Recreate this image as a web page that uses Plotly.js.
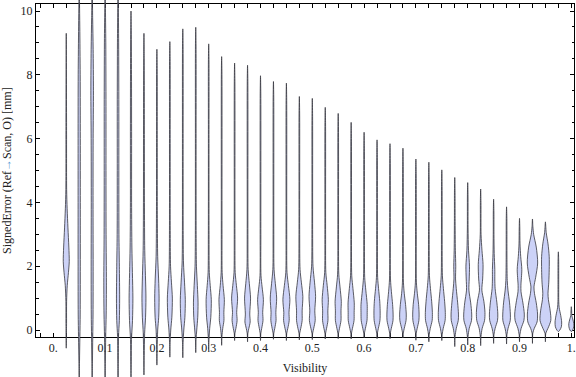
<!DOCTYPE html>
<html><head><meta charset="utf-8">
<script src="https://cdn.plot.ly/plotly-3.0.1.min.js"></script>
<style>html,body{margin:0;padding:0;background:#fff}</style>
</head><body><div id="chart" style="width:576px;height:377px"></div>
<script>
// Visibility bins (one violin per bin)
const visibility = [0.025,0.05,0.075,0.1,0.125,0.15,0.175,0.2,0.225,0.25,0.275,0.3,0.325,0.35,0.375,0.4,0.425,0.45,0.475,0.5,
  0.525,0.55,0.575,0.6,0.625,0.65,0.675,0.7,0.725,0.75,0.775,0.8,0.825,0.85,0.875,0.9,0.925,0.95,0.975,1.0];
// Minimum / maximum signed error per bin [mm]
const minError = [-0.57,-1.8,-1.8,-1.8,-1.8,-1.6,-1.41,-1.10,-0.85,-0.87,-0.71,-0.65,-0.48,-0.33,-0.37,-0.33,-0.29,-0.33,-0.31,-0.30,
  -0.28,-0.27,-0.28,-0.24,-0.27,-0.27,-0.25,-0.32,-0.37,-0.33,-0.52,-0.47,-0.49,-0.42,-0.44,-0.37,-0.42,-0.37,-0.05,-0.05];
const maxError = [9.30,11.0,11.0,11.0,11.0,10.0,9.30,8.80,9.04,9.44,9.49,8.97,8.57,8.37,8.30,7.97,7.79,7.74,7.32,7.26,
  6.98,6.79,6.51,6.20,5.96,5.84,5.70,5.36,5.26,5.02,4.78,4.62,4.42,4.10,3.86,3.50,3.48,3.39,2.45,0.73];
// Density profile of each bin: error levels [mm] and relative density at those levels
const densityLevels = [
  [0.2,0.9,1.4,1.8,2.15,2.6,3.2,3.8,4.4,6.5],
  [-1.0,-0.2,0.5,2,4,6,8,9.5,10.3],
  [-1.0,-0.2,0.5,2,4,6,7.5,8.8,9.8],
  [-1.0,-0.2,0.5,1.5,3,5,7,9,10.2],
  [-1.0,-0.2,0.3,1.0,2.0,3.0,5,7,9,10.2],
  [-1.0,-0.3,0.3,1.0,1.8,2.6,4,6,8,9.4],
  [-0.8,-0.1,0.4,1.0,1.7,2.5,4,6,8.5],
  [-0.6,0,0.4,1.0,1.6,2.3,3.5,6,8.2],
  [-0.4,0,0.4,1.0,1.5,2.0,3,6,8.5],
  [-0.4,0,0.4,0.95,1.5,2.1,3,6,8.9],
  [-0.3,0,0.4,0.85,1.4,2.0,3,6,8.9],
  [-0.3,0.05,0.4,0.95,1.4,1.8,3,6,8.4],
  [-0.2,0.05,0.3,0.55,0.95,1.4,1.8,3,8.0],
  [-0.1,0.05,0.3,0.55,1.0,1.4,1.8,3,7.8],
  [-0.1,0.05,0.25,0.5,1.0,1.45,1.9,3,7.8],
  [-0.1,0.05,0.3,0.55,0.95,1.35,1.7,3,7.4],
  [-0.1,0.05,0.3,0.55,1.0,1.45,1.9,3,7.3],
  [-0.1,0.05,0.3,0.55,0.95,1.4,1.8,3,7.2],
  [-0.1,0.05,0.3,0.6,1.05,1.5,1.9,3,6.8],
  [-0.1,0.05,0.3,0.6,1.05,1.5,2.0,3,6.7],
  [-0.1,0.05,0.3,0.6,0.95,1.4,1.8,3,6.5],
  [-0.1,0.05,0.3,0.6,0.9,1.35,1.75,3,6.3],
  [-0.1,0.05,0.3,0.55,0.85,1.3,1.7,3,6.0],
  [-0.1,0.05,0.3,0.55,0.8,1.25,1.65,3,5.7],
  [-0.1,0.05,0.3,0.6,0.9,1.3,1.65,3,5.5],
  [-0.1,0.05,0.3,0.5,0.8,1.2,1.6,3,5.3],
  [-0.1,0.05,0.3,0.5,0.8,1.15,1.5,3,5.2],
  [-0.1,0.05,0.3,0.5,0.8,1.15,1.5,3,4.9],
  [-0.15,0.05,0.3,0.55,0.9,1.3,1.7,3,4.8],
  [-0.15,0.05,0.3,0.55,0.9,1.3,1.7,3,4.5],
  [-0.2,0.05,0.3,0.5,0.85,1.3,1.6,2.0,2.5,3.5,4.3],
  [-0.2,0.05,0.3,0.5,0.85,1.25,1.6,2.0,2.5,3.2,4.2],
  [-0.2,0.05,0.3,0.55,0.9,1.25,1.6,2.05,2.5,3.0,4.0],
  [-0.15,0.05,0.3,0.5,0.85,1.3,1.6,1.9,2.4,3.0,3.7],
  [-0.15,0.05,0.3,0.5,0.85,1.25,1.55,2.2,3.0,3.5],
  [-0.15,0.05,0.3,0.5,0.85,1.2,1.4,1.9,2.3,2.7,3.2],
  [-0.1,0.05,0.25,0.5,0.85,1.15,1.35,1.65,2.1,2.6,3.0,3.25],
  [-0.1,0.05,0.3,0.6,0.95,1.15,1.5,1.9,2.3,2.7,3.05,3.25],
  [0.0,0.1,0.25,0.45,0.7,0.9,1.5,2.2],
  [0.0,0.1,0.2,0.35,0.45,0.6]
];
const densityValues = [
  [0.3,0.35,1.0,2.2,3.0,2.6,1.7,0.9,0.4,0.3],
  [0.3,0.7,1.0,1.1,1.1,1.1,1.0,0.6,0.3],
  [0.3,0.6,0.9,1.0,0.9,1.0,1.3,1.0,0.5],
  [0.3,0.6,1.1,1.3,1.0,0.9,0.9,0.7,0.3],
  [0.3,0.5,1.3,1.6,1.3,0.9,0.8,0.8,0.6,0.3],
  [0.3,0.5,1.5,1.9,1.4,0.9,0.6,0.6,0.5,0.3],
  [0.3,0.7,1.6,2.0,1.5,0.8,0.5,0.45,0.3],
  [0.3,0.8,1.8,2.2,1.7,0.8,0.45,0.35,0.3],
  [0.3,0.9,2.0,2.5,1.6,0.7,0.4,0.35,0.3],
  [0.3,1.0,2.1,2.5,1.7,0.7,0.4,0.35,0.3],
  [0.3,1.0,2.0,2.3,1.6,0.7,0.4,0.35,0.3],
  [0.3,1.0,2.1,2.6,1.5,0.6,0.35,0.3,0.3],
  [0.3,1.1,2.3,2.2,2.7,1.4,0.5,0.35,0.3],
  [0.35,1.3,2.5,2.1,3.0,1.8,0.6,0.35,0.3],
  [0.35,1.3,2.6,2.2,3.0,1.8,0.6,0.35,0.3],
  [0.35,1.2,2.5,2.2,2.9,1.6,0.5,0.35,0.3],
  [0.35,1.3,2.6,2.4,3.2,1.9,0.6,0.35,0.3],
  [0.35,1.4,2.8,2.6,3.5,2.0,0.6,0.35,0.3],
  [0.35,1.4,2.8,2.8,3.5,2.0,0.7,0.35,0.3],
  [0.35,1.4,2.9,2.5,3.3,2.2,0.7,0.35,0.3],
  [0.35,1.3,2.7,2.6,3.1,1.9,0.6,0.35,0.3],
  [0.35,1.3,2.8,2.8,3.1,1.8,0.6,0.35,0.3],
  [0.35,1.3,2.9,3.0,3.1,1.8,0.6,0.35,0.3],
  [0.35,1.3,2.9,3.1,3.1,1.7,0.6,0.35,0.3],
  [0.35,1.3,2.9,3.1,2.7,1.5,0.6,0.35,0.3],
  [0.35,1.3,3.0,3.1,2.6,1.4,0.5,0.35,0.3],
  [0.35,1.3,3.1,3.3,2.6,1.3,0.5,0.35,0.3],
  [0.35,1.3,3.0,3.2,2.7,1.4,0.5,0.35,0.3],
  [0.35,1.4,3.3,3.5,2.8,1.6,0.6,0.35,0.3],
  [0.35,1.4,3.3,3.5,2.8,1.6,0.6,0.35,0.3],
  [0.35,1.5,3.5,3.7,2.9,1.5,0.8,1.0,0.6,0.35,0.3],
  [0.35,1.5,3.8,4.0,3.0,1.2,1.5,1.8,0.8,0.35,0.3],
  [0.35,1.5,3.9,4.3,3.2,1.2,2.0,2.4,1.3,0.4,0.3],
  [0.35,1.5,3.9,4.2,3.3,1.5,1.2,1.2,0.6,0.35,0.3],
  [0.35,1.5,3.7,3.8,3.0,1.4,0.7,0.4,0.35,0.3],
  [0.35,1.6,4.4,4.8,3.4,1.5,1.4,2.3,1.2,0.5,0.3],
  [0.35,1.8,4.6,5.1,3.8,2.0,1.5,3.2,5.2,3.8,1.2,0.4],
  [0.4,2.5,5.4,4.8,3.0,2.6,3.4,3.8,3.8,2.6,0.8,0.35],
  [1.5,3.0,3.3,2.4,0.8,0.4,0.35,0.3],
  [1.4,2.4,2.5,1.4,0.5,0.35]
];
// Axis tick labels
const tickValues = [0,0.1,0.2,0.3,0.4,0.5,0.6,0.7,0.8,0.9,1.0];
const tickLabels = ["0.","0.1","0.2","0.3","0.4","0.5","0.6","0.7","0.8","0.9","1."];

// conversion of density units to x-axis units (violin half-width)
const DENSITY_SCALE = 1/518;

const traces = visibility.map((xc, i) => {
  const ys = densityLevels[i], ws = densityValues[i];
  const x = [xc], y = [minError[i]];
  for (let j = 0; j < ys.length; j++) { x.push(xc + ws[j]*DENSITY_SCALE); y.push(ys[j]); }
  x.push(xc); y.push(maxError[i]);
  for (let j = ys.length - 1; j >= 0; j--) { x.push(xc - ws[j]*DENSITY_SCALE); y.push(ys[j]); }
  x.push(xc); y.push(minError[i]);
  return {
    type: 'scatter', mode: 'lines', x, y, xaxis: 'x', yaxis: 'y2',
    fill: 'toself', fillcolor: '#ccd2f7',
    line: {color: 'rgba(50,50,58,0.78)', width: 1, shape: 'spline', smoothing: 0.8},
    hoverinfo: 'skip', showlegend: false
  };
});
// empty trace that registers the framed axis pair
traces.unshift({type: 'scatter', mode: 'lines', x: [null], y: [null], xaxis: 'x', yaxis: 'y', hoverinfo: 'skip', showlegend: false});

const layout = {
  width: 576, height: 377,
  margin: {l: 36, r: 2, t: 0, b: 0, pad: 0},
  paper_bgcolor: '#ffffff', plot_bgcolor: 'rgba(0,0,0,0)',
  showlegend: false,
  font: {family: '"Liberation Serif", "Times New Roman", serif', size: 12, color: '#222'},
  xaxis: {
    domain: [0, 1], range: [-0.0334, 1.0052], anchor: 'y',
    showline: true, linecolor: '#000', linewidth: 1, mirror: 'ticks',
    ticks: 'inside', ticklen: 4, tickcolor: '#000', tickwidth: 1,
    tickmode: 'array', tickvals: tickValues, ticktext: tickLabels,
    minor: {tick0: 0, dtick: 0.025, ticks: 'inside', ticklen: 4, tickcolor: '#000', showgrid: false},
    showgrid: false, zeroline: false,
    tickfont: {size: 12},
    title: {text: 'Visibility', font: {size: 12}, standoff: 9}
  },
  yaxis: {
    domain: [0.1061, 0.98859], range: [-0.2194, 10.21], anchor: 'x',
    showline: true, linecolor: '#000', linewidth: 1, mirror: 'ticks',
    ticks: 'inside', ticklen: 4, tickcolor: '#000', tickwidth: 1,
    tick0: 0, dtick: 2,
    minor: {tick0: 0, dtick: 0.5, ticks: 'inside', ticklen: 2.5, tickcolor: '#000', showgrid: false},
    showgrid: false, zeroline: false,
    tickfont: {size: 12},
    title: {text: 'SignedError (Ref<span style="color:#5b9bd5">→</span>Scan, O) [mm]', font: {size: 12}, standoff: 8}
  },
  yaxis2: {
    domain: [0, 1], range: [-1.4734, 10.3448], anchor: 'x',
    visible: false, showgrid: false, zeroline: false
  }
};

Plotly.newPlot('chart', traces, layout, {staticPlot: true, displayModeBar: false});
</script></body></html>
